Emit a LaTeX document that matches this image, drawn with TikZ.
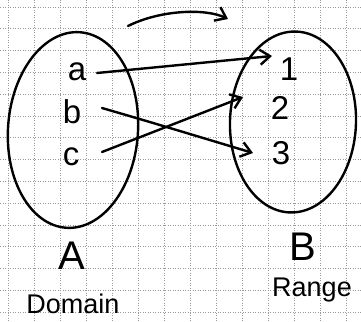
\documentclass[tikz,border=0pt]{standalone}
\usepackage{fontspec}
\setmainfont{Liberation Sans}
\usetikzlibrary{shapes.geometric,arrows.meta,calc}
\tikzset{
  gridline/.style={draw=gray!80, line width=0.8pt, dash pattern=on 1pt off 1.5pt},
  pen/.style={line width=2.4pt, line cap=round, line join=round},
  setshape/.style={draw, ellipse, pen, inner sep=0pt},
  arr/.style={pen, -{Straight Barb[length=10pt,width=15pt,line width=2.4pt]}},
  elem/.style={inner sep=0pt, font=\fontsize{33}{33}\selectfont},
  num/.style={inner sep=0pt, font=\fontsize{33}{33}\selectfont},
  setlabel/.style={inner sep=0pt, font=\fontsize{40}{40}\selectfont},
  word/.style={inner sep=0pt, font=\fontsize{27}{27}\selectfont}
}
\begin{document}
\begin{tikzpicture}[x=1pt,y=-1pt]
\useasboundingbox (0,0) rectangle (361,321);
\fill[white] (0,0) rectangle (361,321);
% grid paper
\foreach \k in {0,...,13} \draw[gridline] (8+26*\k,0) -- (8+26*\k,321);
\foreach \k in {0,...,14} \draw[gridline] (0,7+21.8*\k) -- (361,7+21.8*\k);
% sets
\node[setshape, minimum width=130pt, minimum height=196pt, rotate=-4] (setA) at (73,130) {};
\node[setshape, minimum width=126pt, minimum height=181pt, rotate=-2] (setB) at (293,122) {};
% elements
\node[elem] (a) at (77,72) {a};
\node[elem] (b) at (72,112) {b};
\node[elem] (c) at (71,157) {c};
\node[num] (n1) at (289,69) {1};
\node[num] (n2) at (280,108) {2};
\node[num] (n3) at (281,153) {3};
% labels
\node[setlabel] (labA) at (72,256) {A};
\node[setlabel] (labB) at (303,247) {B};
\node[word] (dom) at (73,304) {Domain};
\node[word] (rng) at (312,290) {Range};
% mapping arrows
\draw[arr] ($(a)+(20,1)$) -- ($(n1)+(-17,-13)$);
\draw[arr] ($(b)+(30,-4)$) .. controls (150,122) .. ($(n3)+(-28,0)$);
\draw[arr] ($(c)+(31,-5)$) -- ($(n2)+(-37,-11)$);
% top arrow
\coordinate (t0) at (128,26);
\coordinate (t1) at (228,19);
\draw[arr] (t0) .. controls (160,10) and (205,8) .. (t1);
\end{tikzpicture}
\end{document}
